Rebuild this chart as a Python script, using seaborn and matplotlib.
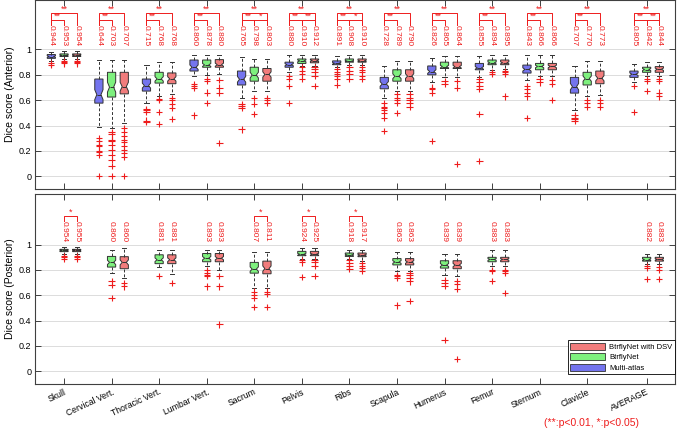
"""Dice score box plots (anterior / posterior) for three segmentation methods."""

import matplotlib

matplotlib.use("Agg")
import matplotlib.pyplot as plt
import pandas as pd
import seaborn as sns
from matplotlib.patches import Patch

CATEGORIES = [
    "Skull", "Cervical Vert.", "Thoracic Vert.", "Lumbar Vert.", "Sacrum", "Pelvis",
    "Ribs", "Scapula", "Humerus", "Femur", "Sternum", "Clavicle", "AVERAGE",
]
# AVERAGE sits a little further right than the regular spacing
CATEGORY_POS = [0, 1, 2, 3, 4, 5, 6, 7, 8, 9, 10, 11, 12.25]

METHODS = ["Multi-atlas", "BtrflyNet", "BtrflyNet with DSV"]
PALETTE = {"Multi-atlas": "#7474ee", "BtrflyNet": "#7ef07e", "BtrflyNet with DSV": "#f17c7c"}

# Box statistics: (lower whisker, q1, median, q3, upper whisker)
ANT_MULTI_ATLAS = [
    (0.91, 0.93, 0.944, 0.96, 0.98), (0.39, 0.577, 0.644, 0.767, 0.92),
    (0.58, 0.672, 0.715, 0.767, 0.88), (0.79, 0.83, 0.860, 0.917, 0.957),
    (0.62, 0.72, 0.765, 0.83, 0.94), (0.82, 0.86, 0.880, 0.90, 0.957),
    (0.86, 0.88, 0.891, 0.91, 0.95), (0.62, 0.69, 0.728, 0.78, 0.87),
    (0.74, 0.80, 0.826, 0.87, 0.93), (0.78, 0.84, 0.855, 0.89, 0.95),
    (0.76, 0.814, 0.843, 0.877, 0.96), (0.52, 0.656, 0.707, 0.78, 0.87),
    (0.74, 0.78, 0.805, 0.83, 0.885),
]
ANT_BTRFLYNET = [
    (0.925, 0.945, 0.953, 0.965, 0.985), (0.38, 0.625, 0.703, 0.82, 0.92),
    (0.63, 0.735, 0.768, 0.82, 0.90), (0.80, 0.86, 0.878, 0.917, 0.957),
    (0.67, 0.75, 0.798, 0.86, 0.925), (0.87, 0.89, 0.910, 0.925, 0.96),
    (0.875, 0.90, 0.908, 0.925, 0.96), (0.67, 0.75, 0.789, 0.84, 0.91),
    (0.78, 0.85, 0.865, 0.90, 0.95), (0.84, 0.88, 0.894, 0.917, 0.96),
    (0.79, 0.84, 0.866, 0.89, 0.96), (0.63, 0.72, 0.770, 0.82, 0.91),
    (0.79, 0.82, 0.842, 0.86, 0.90),
]
ANT_BTRFLYNET_DSV = [
    (0.925, 0.945, 0.954, 0.965, 0.985), (0.42, 0.65, 0.707, 0.82, 0.92),
    (0.65, 0.73, 0.768, 0.815, 0.90), (0.81, 0.86, 0.880, 0.92, 0.957),
    (0.67, 0.75, 0.803, 0.85, 0.925), (0.87, 0.895, 0.912, 0.925, 0.96),
    (0.875, 0.90, 0.910, 0.925, 0.96), (0.67, 0.75, 0.790, 0.84, 0.91),
    (0.78, 0.85, 0.864, 0.90, 0.95), (0.845, 0.88, 0.895, 0.917, 0.96),
    (0.79, 0.84, 0.866, 0.89, 0.96), (0.64, 0.73, 0.773, 0.83, 0.91),
    (0.79, 0.82, 0.844, 0.865, 0.90),
]
ANT_MULTI_ATLAS_OUT = [
    [0.88, 0.89], [0.30, 0.28, 0.25, 0.24, 0.20, 0.19, 0.17, 0.0],
    [0.53, 0.52, 0.51, 0.44, 0.43], [0.73, 0.71, 0.70, 0.48],
    [0.57, 0.555, 0.54, 0.37], [0.79, 0.77, 0.71, 0.58],
    [0.846, 0.82, 0.806, 0.79, 0.767, 0.72], [0.58, 0.55, 0.54, 0.52, 0.50, 0.46, 0.36],
    [0.70, 0.69, 0.66, 0.28], [0.77, 0.74, 0.71, 0.69, 0.49, 0.12],
    [0.71, 0.69, 0.66, 0.63, 0.46], [0.48, 0.46, 0.45, 0.44], [0.71, 0.51],
]
ANT_BTRFLYNET_OUT = [
    [0.91, 0.90, 0.89], [0.35, 0.33, 0.29, 0.28, 0.25, 0.21, 0.17, 0.13, 0.08, 0.0],
    [0.61, 0.60, 0.51, 0.41], [0.77, 0.75, 0.66, 0.58], [0.62, 0.57, 0.49],
    [0.86, 0.83, 0.81, 0.77], [0.86, 0.83, 0.81, 0.77], [0.65, 0.62, 0.60, 0.58, 0.50],
    [0.75, 0.73], [0.82, 0.81], [0.77, 0.74], [0.60, 0.58, 0.55], [0.77, 0.75, 0.67],
]
ANT_BTRFLYNET_DSV_OUT = [
    [0.91, 0.90, 0.89], [0.38, 0.35, 0.32, 0.29, 0.27, 0.24, 0.21, 0.18, 0.15, 0.0],
    [0.62, 0.60, 0.57, 0.54, 0.45], [0.76, 0.70, 0.66, 0.26], [0.62, 0.60, 0.58],
    [0.86, 0.845, 0.82, 0.79, 0.71], [0.86, 0.84, 0.82, 0.79, 0.77],
    [0.65, 0.62, 0.60, 0.58, 0.55], [0.75, 0.70, 0.10], [0.83, 0.82, 0.81, 0.63],
    [0.76, 0.73, 0.60], [0.60, 0.58, 0.55], [0.77, 0.75, 0.66, 0.63],
]

# Posterior view: no multi-atlas result, no Sternum / Clavicle
POST_BTRFLYNET = [
    (0.93, 0.945, 0.954, 0.963, 0.985), (0.78, 0.823, 0.860, 0.907, 0.955),
    (0.825, 0.85, 0.881, 0.92, 0.955), (0.83, 0.865, 0.893, 0.93, 0.96),
    (0.66, 0.775, 0.807, 0.86, 0.94), (0.89, 0.913, 0.924, 0.947, 0.97),
    (0.89, 0.907, 0.918, 0.934, 0.96), (0.79, 0.84, 0.863, 0.89, 0.94),
    (0.76, 0.815, 0.839, 0.873, 0.93), (0.83, 0.865, 0.883, 0.90, 0.96),
    None, None, (0.85, 0.87, 0.882, 0.90, 0.93),
]
POST_BTRFLYNET_DSV = [
    (0.93, 0.945, 0.955, 0.963, 0.985), (0.74, 0.81, 0.860, 0.905, 0.97),
    (0.77, 0.85, 0.881, 0.92, 0.955), (0.80, 0.865, 0.893, 0.93, 0.96),
    (0.66, 0.77, 0.811, 0.87, 0.94), (0.89, 0.913, 0.925, 0.947, 0.97),
    (0.87, 0.905, 0.917, 0.934, 0.96), (0.79, 0.84, 0.863, 0.89, 0.94),
    (0.75, 0.81, 0.839, 0.873, 0.93), (0.83, 0.865, 0.883, 0.90, 0.96),
    None, None, (0.85, 0.87, 0.883, 0.90, 0.93),
]
POST_BTRFLYNET_OUT = [
    [0.91, 0.90, 0.89], [0.71, 0.68, 0.58], [0.75], [0.80, 0.78, 0.76, 0.75, 0.67],
    [0.63, 0.60, 0.58, 0.51], [0.88, 0.86, 0.745], [0.875, 0.855, 0.83, 0.81],
    [0.76, 0.75, 0.735, 0.52], [0.72, 0.70, 0.675, 0.25], [0.80, 0.79, 0.715],
    [], [], [0.83, 0.815, 0.73],
]
POST_BTRFLYNET_DSV_OUT = [
    [0.91, 0.90, 0.89], [0.70, 0.67], [0.70], [0.755, 0.67, 0.37],
    [0.63, 0.61, 0.51], [0.88, 0.86, 0.83, 0.75], [0.855, 0.835, 0.815, 0.79],
    [0.775, 0.76, 0.735, 0.71, 0.555], [0.71, 0.69, 0.65, 0.10], [0.80, 0.79, 0.78, 0.62],
    [], [], [0.825, 0.80, 0.73],
]

# Significance marks (**: p<0.01, *: p<0.05)
ANT_SIG_MA_VS_DSV = ["**"] * 13
ANT_SIG_MA_VS_NET = ["**"] * 13
ANT_SIG_NET_VS_DSV = ["", "", "", "", "*", "**", "*", "", "", "", "", "", "**"]
POST_SIG_NET_VS_DSV = ["*", "", "", "", "*", "*", "*", "", "", "", "", "", ""]

# Each summary value gets equal weight so seaborn reproduces the box exactly
REPS = 12
DODGE = 0.8 / len(METHODS)
OFFSET = {m: (i - 1) * DODGE for i, m in enumerate(METHODS)}
RED = "#ee1c1c"
EDGE = "#333333"

plt.rcParams.update({
    "font.family": ["Liberation Sans", "DejaVu Sans"],
    "axes.edgecolor": "#404040",
    "axes.linewidth": 0.8,
    "xtick.color": "#404040",
    "ytick.color": "#404040",
    "xtick.labelcolor": "black",
    "ytick.labelcolor": "black",
})


def build_frames(stats, outliers):
    rows, out_rows = [], []
    for method, stats_list in stats.items():
        for pos, summary, extra in zip(CATEGORY_POS, stats_list, outliers[method]):
            if summary is None:
                continue
            rows += [(pos, method, v) for v in list(summary) * REPS]
            out_rows += [(pos, method, v) for v in extra]
    cols = ["pos", "method", "dice"]
    return pd.DataFrame(rows, columns=cols), pd.DataFrame(out_rows, columns=cols)


def bracket(ax, x1, x2, foot, level, mark, star_y):
    ax.plot([x1, x1, x2, x2], [foot, level, level, foot], color=RED, lw=0.7)
    ax.text((x1 + x2) / 2, star_y, mark, color=RED, fontsize=6.5, ha="center", va="bottom")


def draw_panel(ax, stats, outliers, ylabel):
    box_df, out_df = build_frames(stats, outliers)
    sns.boxplot(
        data=box_df, x="pos", y="dice", hue="method", hue_order=METHODS, palette=PALETTE,
        native_scale=True, saturation=1, width=0.8, gap=0.35, whis=(0, 100), notch=True,
        linecolor=EDGE, linewidth=0.7, fliersize=0, legend=False, ax=ax,
        whiskerprops={"linestyle": (0, (3, 2))},
    )
    sns.stripplot(
        data=out_df, x="pos", y="dice", hue="method", hue_order=METHODS,
        palette={m: RED for m in METHODS}, native_scale=True, dodge=True, jitter=False,
        marker="+", size=4.5, linewidth=0.8, edgecolor=RED, legend=False, ax=ax,
    )
    # median values written above each box
    for method, stats_list in stats.items():
        for pos, summary in zip(CATEGORY_POS, stats_list):
            if summary is None:
                continue
            ax.text(pos + OFFSET[method], 1.19, f"{summary[2]:.3f}", color=RED, fontsize=6,
                    rotation=270, ha="center", va="top")

    ax.set_ylim(-0.1, 1.39)
    ax.set_xlim(-0.61, 12.85)
    ax.set_yticks([0, 0.2, 0.4, 0.6, 0.8, 1])
    ax.set_yticklabels(["0", "0.2", "0.4", "0.6", "0.8", "1"], fontsize=6.5)
    ax.set_xticks(CATEGORY_POS)
    ax.tick_params(direction="in", top=True, right=True, length=4, width=0.7, pad=2.5)
    ax.yaxis.grid(True, color="#dcdcdc", lw=0.7)
    ax.set_axisbelow(True)
    ax.set_xlabel("")
    ax.set_ylabel(ylabel, fontsize=7.5, labelpad=3)


fig = plt.figure(figsize=(6.77, 4.33), dpi=100)
ax_top = fig.add_axes([0.0517, 0.5635, 0.9456, 0.4365])
ax_bot = fig.add_axes([0.0517, 0.1132, 0.9456, 0.4388])

draw_panel(
    ax_top,
    {"Multi-atlas": ANT_MULTI_ATLAS, "BtrflyNet": ANT_BTRFLYNET, "BtrflyNet with DSV": ANT_BTRFLYNET_DSV},
    {"Multi-atlas": ANT_MULTI_ATLAS_OUT, "BtrflyNet": ANT_BTRFLYNET_OUT,
     "BtrflyNet with DSV": ANT_BTRFLYNET_DSV_OUT},
    "Dice score (Anterior)",
)
draw_panel(
    ax_bot,
    {"BtrflyNet": POST_BTRFLYNET, "BtrflyNet with DSV": POST_BTRFLYNET_DSV},
    {"BtrflyNet": POST_BTRFLYNET_OUT, "BtrflyNet with DSV": POST_BTRFLYNET_DSV_OUT},
    "Dice score (Posterior)",
)
ax_bot.set_ylim(-0.1, 1.4)
ax_top.tick_params(labelbottom=False)
ax_bot.set_xticklabels(CATEGORIES, rotation=25, ha="right", rotation_mode="anchor", fontsize=6.2)

lo, mid, hi = OFFSET["Multi-atlas"], OFFSET["BtrflyNet"], OFFSET["BtrflyNet with DSV"]
for pos, s_outer, s_inner, s_right in zip(CATEGORY_POS, ANT_SIG_MA_VS_DSV, ANT_SIG_MA_VS_NET, ANT_SIG_NET_VS_DSV):
    if s_outer:
        bracket(ax_top, pos + lo, pos + hi, 1.19, 1.29, s_outer, 1.28)
    if s_inner:
        bracket(ax_top, pos + lo, pos + mid, 1.19, 1.236, s_inner, 1.226)
    if s_right:
        bracket(ax_top, pos + mid, pos + hi, 1.19, 1.236, s_right, 1.226)
for pos, s in zip(CATEGORY_POS, POST_SIG_NET_VS_DSV):
    if s:
        bracket(ax_bot, pos + mid, pos + hi, 1.19, 1.23, s, 1.22)

handles = [Patch(facecolor=PALETTE[m], edgecolor=EDGE, lw=0.6, label=m) for m in reversed(METHODS)]
leg = ax_bot.legend(
    handles=handles, loc="lower right", bbox_to_anchor=(1.0, 0.05), borderaxespad=0,
    fontsize=5.5, handlelength=4.6, handleheight=1.0, labelspacing=0.3, borderpad=0.35,
    handletextpad=0.5, fancybox=False, framealpha=1, edgecolor="black",
)
leg.get_frame().set_linewidth(0.6)

fig.text(0.873, 0.022, "(**:p<0.01, *:p<0.05)", color=RED, fontsize=7.5, ha="center", va="center")

fig.savefig("out.png", dpi=100)
